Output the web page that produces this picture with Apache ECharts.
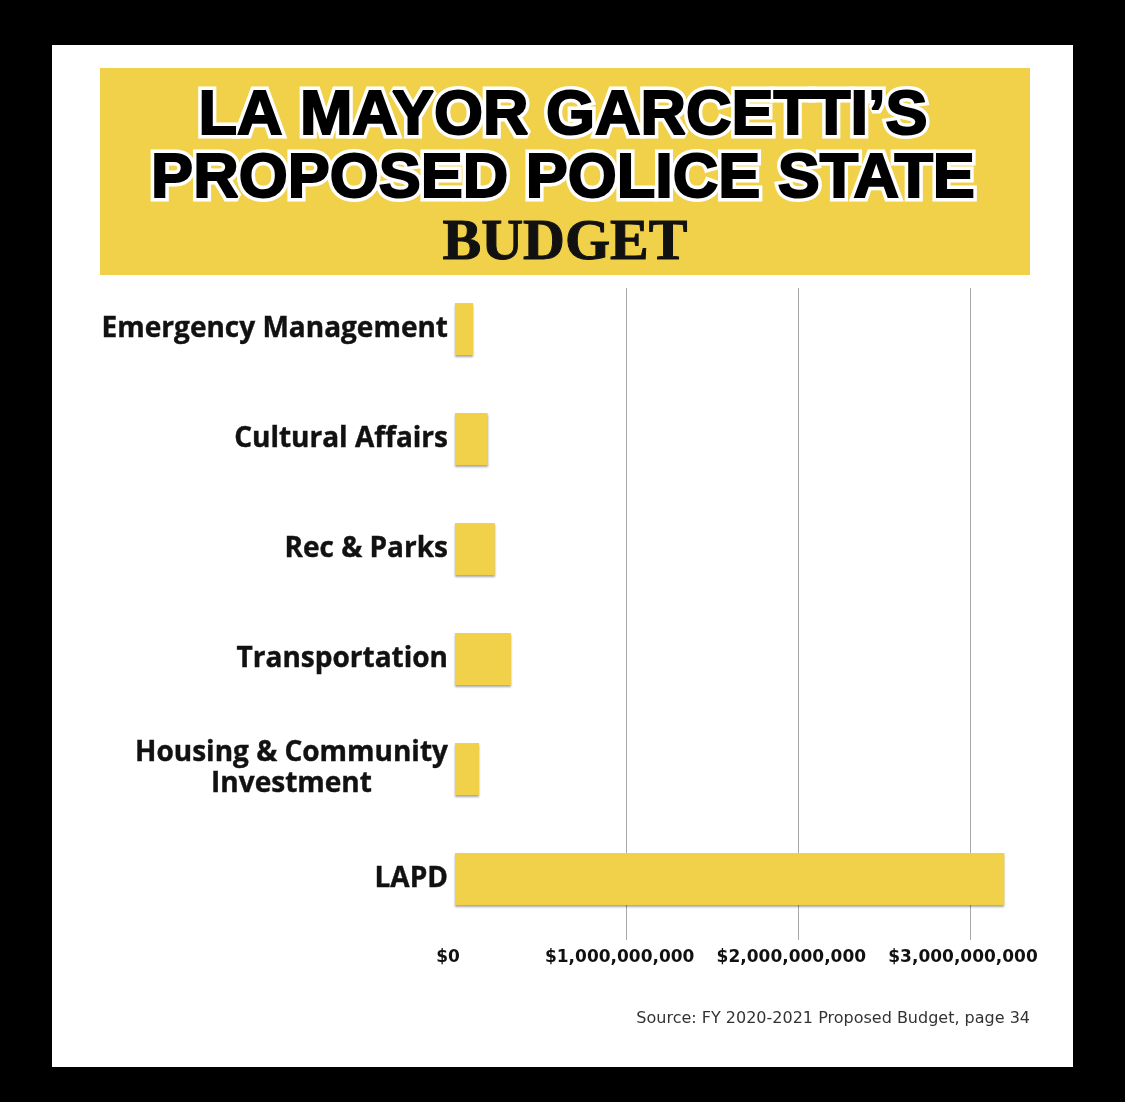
<!DOCTYPE html>
<html><head><meta charset="utf-8">
<script src="https://cdn.jsdelivr.net/npm/echarts@6/dist/echarts.min.js"></script>
<style>html,body{margin:0;padding:0;background:#000}#c{width:1125px;height:1102px}</style>
</head><body><div id="c"></div>
<script>
const categories = ['Emergency Management','Cultural Affairs','Rec & Parks','Transportation','Housing & Community\nInvestment','LAPD'];
const budget = [105000000, 190000000, 232000000, 326000000, 140000000, 3200000000];
const tickValues = [0, 1000000000, 2000000000, 3000000000];
const titleLines = ['LA MAYOR GARCETTI\u2019S', 'PROPOSED POLICE STATE', 'BUDGET'];
const sourceNote = 'Source: FY 2020-2021 Proposed Budget, page 34';

const W = 1125, H = 1102;
const gridLeft = 455, gridRight = 86.3;
const xMax = 3400000000;
const yellow = '#f1d04a';
const titleFont = 'bold 63px "Liberation Sans", Arial, sans-serif';

function fmtMoney(v){
  return '$' + Math.round(v).toString().replace(/\B(?=(\d{3})+(?!\d))/g, ',');
}
function outlinedText(txt, x, y){
  return [
    {type:'text', x:x, y:y, z:5, style:{text:txt, font:titleFont, fill:'#fff', stroke:'#fff', lineWidth:9, lineJoin:'round', textAlign:'center', textVerticalAlign:'bottom'}},
    {type:'text', x:x, y:y, z:6, style:{text:txt, font:titleFont, fill:'#000', stroke:'#000', lineWidth:2, lineJoin:'round', textAlign:'center', textVerticalAlign:'bottom'}}
  ];
}

const chart = echarts.init(document.getElementById('c'), null, {renderer:'canvas'});
chart.setOption({
  backgroundColor: '#000',
  animation: false,
  graphic: [
    {type:'rect', left:52, top:45, shape:{width:1021, height:1022}, style:{fill:'#fff'}, z:-10},
    {type:'rect', left:100, top:68, shape:{width:930, height:207}, style:{fill:yellow}, z:-9}
  ].concat(outlinedText(titleLines[0], 563, 148))
   .concat(outlinedText(titleLines[1], 563, 211))
   .concat([
    {type:'text', x:565, y:273, z:5, style:{text:titleLines[2], font:'bold 58px "Liberation Serif", "DejaVu Serif", serif', fill:'#111', stroke:'#111', lineWidth:1, textAlign:'center', textVerticalAlign:'bottom'}},
    {type:'text', x:1030, y:1019, z:5, style:{text:sourceNote, font:'16px "DejaVu Sans", sans-serif', fill:'#333', textAlign:'right', textVerticalAlign:'middle'}}
  ]),
  grid: [
    {left:gridLeft, right:gridRight, top:274, bottom:H-934},
    {left:gridLeft, right:gridRight, top:288, bottom:H-940}
  ],
  xAxis: [
    {gridIndex:0, type:'value', min:0, max:xMax, interval:1000000000, show:false},
    {gridIndex:1, type:'value', min:0, max:xMax, interval:1000000000,
      axisLine:{show:false}, axisTick:{show:false},
      splitLine:{show:true, lineStyle:{color:['rgba(0,0,0,0)','#a8a8a8','#a8a8a8','#a8a8a8','rgba(0,0,0,0)'], width:1}},
      axisLabel:{show:true, margin:9, color:'#111', fontFamily:'"DejaVu Sans", sans-serif', fontWeight:'bold', fontSize:17,
        padding:[0,14,0,0],
        formatter: v => tickValues.indexOf(v) >= 0 ? fmtMoney(v) : '',
        showMaxLabel:false}
    }
  ],
  yAxis: [
    {gridIndex:0, type:'category', data:categories, inverse:true,
      axisLine:{show:false}, axisTick:{show:false}, splitLine:{show:false},
      axisLabel:{margin:7, color:'#111', formatter: v => '{a|' + v.split('\n').join('}\n{a|') + '}',
        rich:{a:{fontFamily:'"Open Sans", sans-serif', fontWeight:'bold', fontSize:28, lineHeight:31, color:'#111', align:'center', textBorderColor:'#111', textBorderWidth:0.4}}}
    },
    {gridIndex:1, type:'category', data:categories, inverse:true, show:false}
  ],
  series: [{
    type:'bar', xAxisIndex:0, yAxisIndex:0, data:budget, barWidth:52,
    itemStyle:{color:yellow, shadowColor:'rgba(0,0,0,0.35)', shadowBlur:2, shadowOffsetY:2},
    z:3
  }]
});
</script></body></html>
